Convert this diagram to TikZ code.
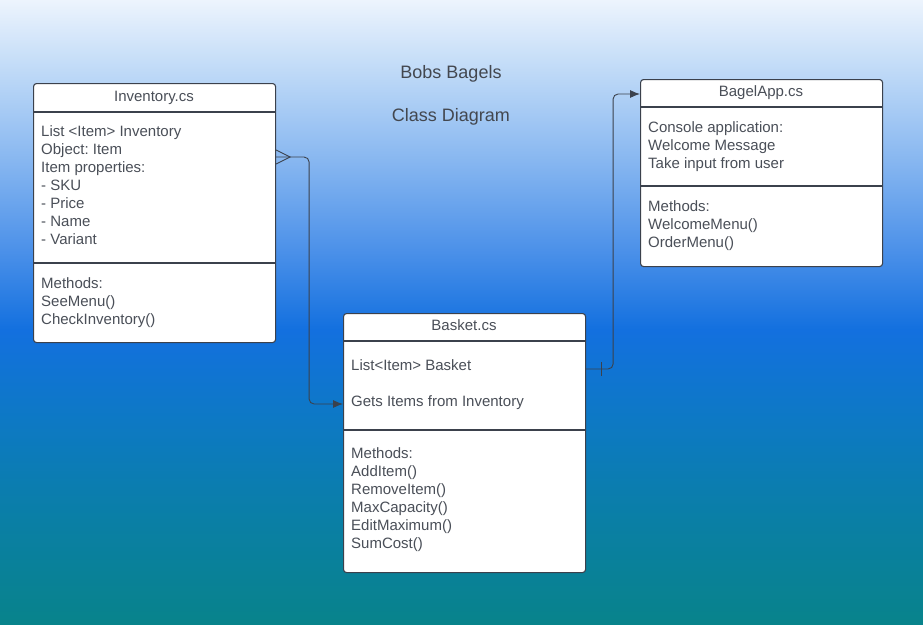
\documentclass[tikz,border=0pt]{standalone}
\usepackage{fontspec}
\setmainfont{Liberation Sans}
\usetikzlibrary{arrows.meta}
\usetikzlibrary{positioning}
\frenchspacing
\definecolor{mline}{HTML}{3B414C}
\definecolor{mtext}{HTML}{4A4F58}
\definecolor{bgtop}{HTML}{EDF4FD}
\definecolor{bglight}{HTML}{C6DEF8}
\definecolor{bgsky}{HTML}{8EBBF1}
\definecolor{bgmid}{HTML}{4C91E9}
\definecolor{bgblue}{HTML}{1370DF}
\definecolor{bgdeep}{HTML}{0D79C4}
\definecolor{bgsea}{HTML}{0A7FA5}
\definecolor{bgteal}{HTML}{08838B}
\pgfdeclareverticalshading{bgshade}{100bp}{color(0bp)=(bgteal); color(25bp)=(bgteal);
  color(33.3bp)=(bgsea); color(41.3bp)=(bgdeep); color(48.6bp)=(bgblue);
  color(55bp)=(bgmid); color(63bp)=(bgsky); color(70.2bp)=(bglight);
  color(75bp)=(bgtop); color(100bp)=(bgtop)}
\tikzset{
  classbox/.style={draw=mline, line width=1.1pt, fill=white, rounded corners=3pt,
    inner sep=0pt, anchor=north west},
  divider/.style={draw=mline, line width=1.1pt},
  conn/.style={draw=mline, line width=0.9pt, rounded corners=5pt},
  boxtitle/.style={anchor=base, inner sep=0pt, text=mtext, font=\fontsize{15}{18}\selectfont},
  boxline/.style={anchor=base west, inner sep=0pt, text=mtext, font=\fontsize{15}{18}\selectfont},
  heading/.style={anchor=base, inner sep=0pt, text=mtext!90!black, font=\fontsize{18}{22}\selectfont}
}

\begin{document}
\begin{tikzpicture}[x=1pt, y=-1pt]
      \fill [shading=bgshade] (0, 0) rectangle (923, 624);
      \useasboundingbox (0, 0) rectangle (923, 624);

      \node [heading] (title) at (451, 78.5) {Bobs Bagels};
      \node [heading] (subtitle) at (451, 121.5) {Class Diagram};

      % Inventory.cs
      \node [classbox, minimum width=242pt, minimum height=259pt] (inventory) at (33, 83) {};
      \draw [divider] (inventory.north west) ++(0, 29) -- ++(242, 0);
      \draw [divider] (inventory.north west) ++(0, 180) -- ++(242, 0);
      \node [boxtitle] (inventory-name) at (154, 101.5) {Inventory.cs};
      \foreach \t [count=\i] in {List <Item> Inventory, Object: Item, Item properties:,
          - SKU, - Price, - Name, - Variant}
        \node [boxline] (inventory-\i) at (41, 118.5 + 18*\i) {\t};
      \foreach \t [count=\i] in {Methods:, SeeMenu(), CheckInventory()}
        \node [boxline] (inventory-m\i) at (41, 270.5 + 18*\i) {\t};

      % Basket.cs
      \node [classbox, minimum width=242pt, minimum height=259pt] (basket) at (343, 313) {};
      \draw [divider] (basket.north west) ++(0, 28) -- ++(242, 0);
      \draw [divider] (basket.north west) ++(0, 117) -- ++(242, 0);
      \node [boxtitle] (basket-name) at (464, 330.5) {Basket.cs};
      \node [boxline] (basket-1) at (351, 370.5) {List<Item> Basket};
      \node [boxline] (basket-2) at (351, 406.5) {Gets Items from Inventory};
      \foreach \t [count=\i] in {Methods:, AddItem(), RemoveItem(), MaxCapacity(),
          EditMaximum(), SumCost()}
        \node [boxline] (basket-m\i) at (351, 440.5 + 18*\i) {\t};

      % BagelApp.cs
      \node [classbox, minimum width=242pt, minimum height=187pt] (bagelapp) at (640, 79) {};
      \draw [divider] (bagelapp.north west) ++(0, 28) -- ++(242, 0);
      \draw [divider] (bagelapp.north west) ++(0, 107) -- ++(242, 0);
      \node [boxtitle] (bagelapp-name) at (761, 96.5) {BagelApp.cs};
      \foreach \t [count=\i] in {Console application:, Welcome Message, Take input from user}
        \node [boxline] (bagelapp-\i) at (648, 114.5 + 18*\i) {\t};
      \foreach \t [count=\i] in {Methods:, WelcomeMenu(), OrderMenu()}
        \node [boxline] (bagelapp-m\i) at (648, 193.5 + 18*\i) {\t};

      % connectors
      \coordinate (inventory-port) at ([yshift=-74pt]inventory.north east);
      \coordinate (basket-in) at ([yshift=-91pt]basket.north west);
      \coordinate (basket-out) at ([yshift=-56pt]basket.north east);
      \coordinate (bagelapp-in) at ([yshift=-15pt]bagelapp.north west);

      \draw [conn, -{Latex[length=10pt, width=8pt]}] (inventory-port) -- ++(33, 0) |- (basket-in);
      \draw [conn, rounded corners=0pt] ([yshift=7pt]inventory-port) -- ++(14pt, -7pt) -- ([yshift=-7pt]inventory-port);

      \draw [conn, -{Latex[length=10pt, width=8pt]}] (basket-out) -- ++(27, 0) |- (bagelapp-in);
      \draw [conn] ([xshift=15pt, yshift=7pt]basket-out) -- ++(0pt, -14pt);
    \end{tikzpicture}
\end{document}
